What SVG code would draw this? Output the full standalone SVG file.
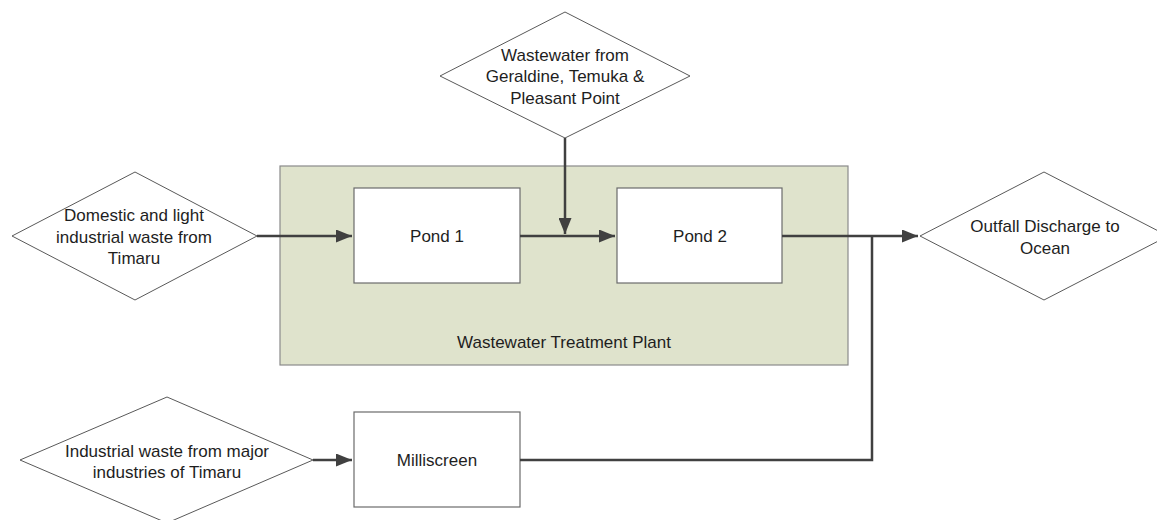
<svg xmlns="http://www.w3.org/2000/svg" width="1157" height="520" viewBox="0 0 1157 520">
<style>
.d{fill:#fff;stroke:#595959;stroke-width:1}
.b{fill:#fff;stroke:#6b6b6b;stroke-width:1.2}
.g{fill:#dfe3cc;stroke:#8a8a8a;stroke-width:1.2}
text{font-family:"Liberation Sans",Arial,sans-serif;font-size:17px;fill:#1e1e1e;text-anchor:middle;dominant-baseline:central}
.c{fill:none;stroke:#404040;stroke-width:2.5}
</style>
<defs>
<marker id="ah" viewBox="0 0 10 10" refX="10" refY="5" markerWidth="16" markerHeight="13" markerUnits="userSpaceOnUse" orient="auto" preserveAspectRatio="none">
<path d="M0,0 L10,5 L0,10 z" fill="#404040"/>
</marker>
</defs>
<rect width="1157" height="520" fill="#fff"/>
<g id="plant">
<rect class="g" x="280" y="166" width="568" height="199"/>
<text x="564" y="342">Wastewater Treatment Plant</text>
</g>
<g id="pond1">
<rect class="b" x="354" y="188" width="166" height="95"/>
<text x="437" y="236">Pond 1</text>
</g>
<g id="pond2">
<rect class="b" x="617" y="188" width="165" height="95"/>
<text x="700" y="236">Pond 2</text>
</g>
<g id="milliscreen">
<rect class="b" x="354" y="412" width="166" height="95"/>
<text x="437" y="460">Milliscreen</text>
</g>
<g id="src-geraldine">
<polygon class="d" points="565,12 690,76 565,138 440,76"/>
<text x="565" y="55">Wastewater from</text>
<text x="565" y="76">Geraldine, Temuka &amp;</text>
<text x="565" y="98">Pleasant Point</text>
</g>
<g id="src-domestic">
<polygon class="d" points="135,172 257,236 135,300 12,236"/>
<text x="134" y="215">Domestic and light</text>
<text x="134" y="237">industrial waste from</text>
<text x="134" y="258">Timaru</text>
</g>
<g id="src-industrial">
<polygon class="d" points="167,397 313,460 167,523 20,460"/>
<text x="167" y="451">Industrial waste from major</text>
<text x="167" y="472">industries of Timaru</text>
</g>
<g id="outfall">
<polygon class="d" points="1044,172 1168,236 1044,300 920,236"/>
<text x="1045" y="226">Outfall Discharge to</text>
<text x="1045" y="248">Ocean</text>
</g>
<g id="connectors">
<line class="c" x1="257" y1="236" x2="352" y2="236" marker-end="url(#ah)"/>
<line class="c" x1="520" y1="236" x2="615" y2="236" marker-end="url(#ah)"/>
<line class="c" x1="565" y1="138" x2="565" y2="234" marker-end="url(#ah)"/>
<line class="c" x1="782" y1="236" x2="918" y2="236" marker-end="url(#ah)"/>
<polyline class="c" points="520,460 872,460 872,236"/>
<line class="c" x1="313" y1="460" x2="352" y2="460" marker-end="url(#ah)"/>
</g>
</svg>
